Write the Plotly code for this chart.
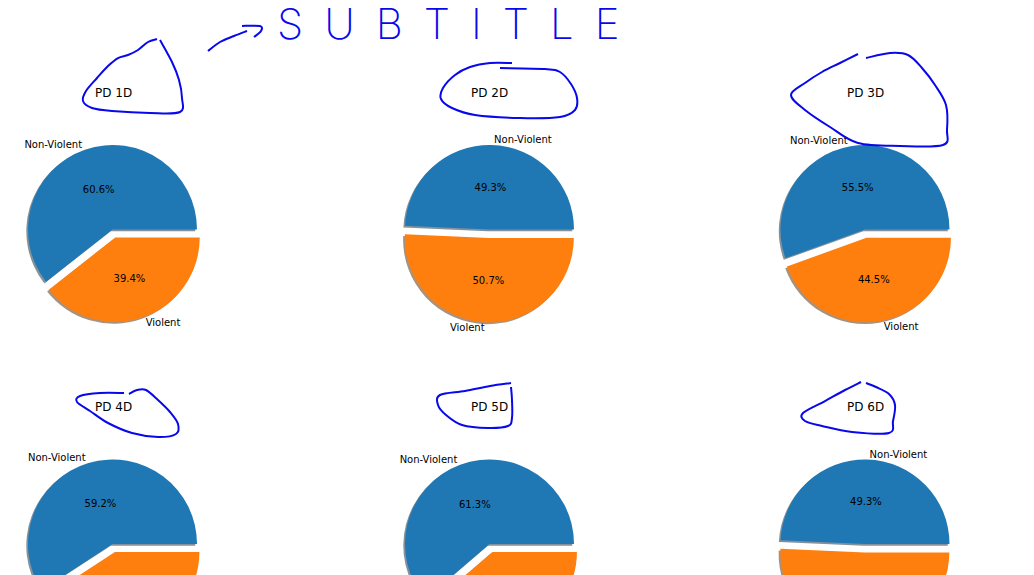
import plotly.graph_objects as go

# ---------------- data ----------------
titles = ["PD 1D", "PD 2D", "PD 3D", "PD 4D", "PD 5D", "PD 6D"]
labels = ["Non-Violent", "Violent"]
non_violent = [60.6, 49.3, 55.5, 59.2, 61.3, 49.3]
violent = [39.4, 50.7, 44.5, 40.8, 38.7, 50.7]
explode = [0, 0.1]
subtitle_text = "\u2002".join("SUBTITLE")

# ---------------- style / layout ----------------
colors = ["#1f77b4", "#ff7f0e"]
shadow_colors = ["rgba(9,36,54,0.5)", "rgba(77,38,4,0.5)"]
ink = "rgb(8,8,235)"
W, H = 1034, 700
col_cx = [112.5, 489.5, 865]
row_cy = [229.5, 544]
title_cx = [113.5, 489.5, 865.5]
title_y = [93, 407]
R = 84.5
side = 2 * R * (1 + max(explode))
FONT = "DejaVu Sans"


def dom(cx, cy):
    return dict(x=[(cx - side / 2) / W, (cx + side / 2) / W],
                y=[1 - (cy + side / 2) / H, 1 - (cy - side / 2) / H])


fig = go.Figure()
annotations = []
for i, t in enumerate(titles):
    cx = col_cx[i % 3]
    cy = row_cy[i // 3]
    # matplotlib-style: first wedge counter-clockwise from 3 o'clock == draw the
    # reversed list clockwise from 3 o'clock
    common = dict(labels=labels[::-1], values=[violent[i], non_violent[i]], sort=False,
                  direction="clockwise", rotation=90, pull=explode[::-1],
                  showlegend=False, hoverinfo="skip")
    # shadow
    fig.add_trace(go.Pie(**common, domain=dom(cx - 1.7, cy + 1.7),
                         marker=dict(colors=shadow_colors[::-1], line=dict(width=0)),
                         textinfo="none"))
    # wedges with percentages
    fig.add_trace(go.Pie(**common, domain=dom(cx, cy),
                         marker=dict(colors=colors[::-1], line=dict(width=0)),
                         texttemplate="%{percent:.1%}", textposition="inside",
                         insidetextorientation="horizontal",
                         insidetextfont=dict(family=FONT, size=10, color="black")))
    # outside labels
    fig.add_trace(go.Pie(**common, domain=dom(cx, cy),
                         marker=dict(colors=["rgba(0,0,0,0)"] * 2, line=dict(width=0)),
                         textinfo="label", textposition="outside",
                         outsidetextfont=dict(family=FONT, size=10, color="black")))
    annotations.append(dict(text=t, x=title_cx[i % 3] / W, y=1 - title_y[i // 3] / H,
                            xref="paper", yref="paper", showarrow=False,
                            xanchor="center", yanchor="middle",
                            font=dict(family=FONT, size=12, color="black")))

annotations.append(dict(text=subtitle_text, x=448 / W, y=1 - 24 / H, xref="paper", yref="paper",
                        showarrow=False, xanchor="center", yanchor="middle",
                        font=dict(family="Inter", size=42, color=ink, weight=250)))


def smooth_path(pts):
    P = [(x / W, 1 - y / H) for x, y in pts]
    d = f"M {P[0][0]:.5f},{P[0][1]:.5f}"
    n = len(P)
    for i in range(n - 1):
        p0 = P[i - 1] if i > 0 else P[i]
        p1, p2 = P[i], P[i + 1]
        p3 = P[i + 2] if i + 2 < n else P[i + 1]
        c1 = (p1[0] + (p2[0] - p0[0]) / 6, p1[1] + (p2[1] - p0[1]) / 6)
        c2 = (p2[0] - (p3[0] - p1[0]) / 6, p2[1] - (p3[1] - p1[1]) / 6)
        d += (f" C {c1[0]:.5f},{c1[1]:.5f} {c2[0]:.5f},{c2[1]:.5f}"
              f" {p2[0]:.5f},{p2[1]:.5f}")
    return d


# hand-drawn annotation strokes (arrow + loops around the titles)
scribbles = [
    [(208, 51), (220, 42), (234, 36), (247, 31)],
    [(242, 26), (260, 26), (261, 31), (254, 37)],
    [(157, 39), (148, 42), (138, 50), (128, 55), (118, 58), (108, 66), (97, 78), (86, 91),
     (83, 101), (92, 108), (112, 111), (150, 113), (180, 112), (182, 98), (179, 80),
     (172, 62), (160, 40)],
    [(512, 63), (490, 63), (470, 67), (455, 75), (443, 88), (441, 99), (452, 108), (475, 115),
     (520, 118), (560, 117), (575, 110), (577, 98), (571, 84), (560, 72), (545, 69), (500, 68)],
    [(858, 54), (840, 63), (822, 72), (805, 83), (791, 95), (805, 110), (830, 127), (858, 143),
     (900, 146), (943, 145), (947, 130), (946, 105), (935, 85), (922, 68), (908, 55), (890, 53),
     (866, 58)],
    [(124, 393), (100, 393), (80, 396), (77, 402), (90, 411), (108, 423), (132, 433),
     (158, 437), (176, 434), (178, 424), (170, 412), (158, 400), (146, 390), (137, 390),
     (129, 394)],
    [(511, 383), (490, 386), (465, 391), (440, 395), (438, 405), (446, 415), (462, 425),
     (488, 428), (508, 426), (512, 418), (512, 400), (511, 387)],
    [(861, 382), (845, 390), (825, 401), (803, 413), (805, 421), (822, 426), (852, 432),
     (889, 433), (893, 421), (895, 405), (889, 394), (876, 387), (866, 383)],
]
shapes = [dict(type="path", path=smooth_path(s), xref="paper", yref="paper",
               line=dict(color=ink, width=2)) for s in scribbles]

fig.update_layout(width=W, height=H, margin=dict(l=0, r=0, t=0, b=0),
                  paper_bgcolor="white", plot_bgcolor="white",
                  annotations=annotations, shapes=shapes,
                  font=dict(family=FONT, size=10, color="black"))

fig.write_html(
    "out.html",
    config={"displayModeBar": False},
    post_script=("document.body.style.margin='0';"
                 "document.body.style.overflow='hidden';"
                 "document.documentElement.style.overflow='hidden';"),
)
